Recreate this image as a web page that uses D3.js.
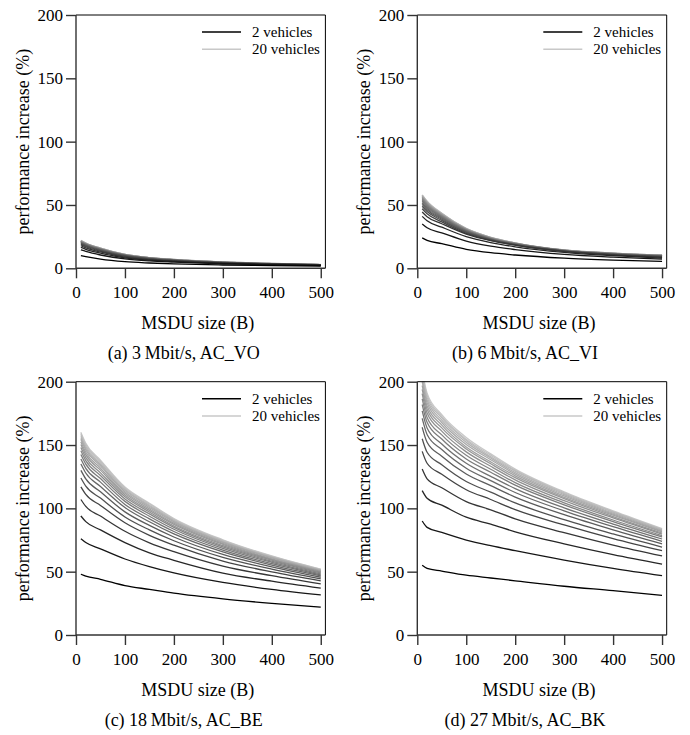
<!DOCTYPE html>
<html>
<head>
<meta charset="utf-8">
<script src="https://cdn.jsdelivr.net/npm/d3@7"></script>
<style>
  body { margin: 0; background: #fff; }
  text { font-family: "Liberation Serif", "Times New Roman", serif; fill: #000; }
</style>
</head>
<body>
<div class="chart"></div>
<script>
// MSDU sizes sampled along the x axis (bytes)
const msduSize = [10, 20, 50, 100, 150, 200, 300, 400, 500];
// one curve per number of vehicles
const vehicles = [2, 3, 4, 5, 6, 7, 8, 9, 10, 11, 12, 13, 14, 15, 16, 17, 18, 19, 20];

const xTicks = [0, 100, 200, 300, 400, 500];
const yTicks = [0, 50, 100, 150, 200];

const captions = ["(a) 3\u2009Mbit/s, AC_VO", "(b) 6\u2009Mbit/s, AC_VI",
                  "(c) 18\u2009Mbit/s, AC_BE", "(d) 27\u2009Mbit/s, AC_BK"];
const legendLabels = ["2 vehicles", "20 vehicles"];

// performance increase (%), rows = vehicles, cols = msduSize
const acVO = [
  [10, 9.2, 7.2, 5.2, 4.2, 3.5, 2.6, 2.1, 1.7],
  [14.5, 13.3, 10.5, 7.4, 5.8, 4.9, 3.6, 2.8, 2.2],
  [16.5, 15.0, 12.0, 8.3, 6.5, 5.4, 3.9, 3.0, 2.4],
  [17.8, 16.2, 12.9, 8.9, 6.9, 5.7, 4.1, 3.2, 2.5],
  [18.7, 17.0, 13.6, 9.4, 7.3, 6.0, 4.3, 3.3, 2.6],
  [19.3, 17.6, 14.0, 9.7, 7.5, 6.2, 4.4, 3.4, 2.65],
  [19.8, 18.0, 14.4, 9.9, 7.7, 6.3, 4.5, 3.45, 2.7],
  [20.2, 18.4, 14.7, 10.1, 7.8, 6.4, 4.6, 3.5, 2.75],
  [20.5, 18.7, 14.9, 10.3, 7.9, 6.5, 4.65, 3.55, 2.8],
  [20.8, 18.9, 15.1, 10.4, 8.0, 6.6, 4.7, 3.6, 2.82],
  [21.0, 19.1, 15.3, 10.5, 8.1, 6.7, 4.75, 3.63, 2.85],
  [21.2, 19.3, 15.4, 10.6, 8.2, 6.75, 4.8, 3.67, 2.88],
  [21.4, 19.5, 15.6, 10.7, 8.3, 6.8, 4.85, 3.7, 2.9],
  [21.5, 19.6, 15.6, 10.8, 8.3, 6.85, 4.9, 3.72, 2.92],
  [21.6, 19.7, 15.7, 10.8, 8.35, 6.9, 4.92, 3.75, 2.94],
  [21.7, 19.8, 15.8, 10.9, 8.4, 6.92, 4.95, 3.77, 2.96],
  [21.8, 19.8, 15.85, 10.9, 8.42, 6.95, 4.97, 3.78, 2.97],
  [21.9, 19.9, 15.9, 10.95, 8.46, 6.97, 4.98, 3.79, 2.98],
  [22, 20, 16, 11, 8.5, 7, 5, 3.8, 3.0]
];

const acVI = [
  [24, 22, 19.5, 15, 12.3, 10.5, 8, 6.5, 5.5],
  [35, 32, 28, 21.5, 17.5, 14.8, 11, 8.8, 7.2],
  [41, 37.5, 32.5, 25, 20.3, 17, 12.6, 10, 8.1],
  [44.5, 40.7, 35.2, 27, 21.8, 18.3, 13.4, 10.6, 8.7],
  [47, 43.0, 36.6, 27.6, 22.1, 18.4, 13.5, 10.8, 9.0],
  [49, 44.8, 37.8, 28.3, 22.5, 18.7, 13.6, 11.0, 9.3],
  [50.5, 46.2, 38.7, 28.8, 22.8, 18.8, 13.7, 11.1, 9.4],
  [51.8, 47.3, 39.6, 29.3, 23.1, 19.0, 13.8, 11.3, 9.6],
  [53, 48.4, 40.3, 29.7, 23.3, 19.2, 14.0, 11.4, 9.8],
  [54, 49.4, 40.9, 30.0, 23.5, 19.4, 14.1, 11.6, 9.9],
  [54.8, 50.1, 41.4, 30.3, 23.7, 19.5, 14.15, 11.65, 10.0],
  [55.5, 50.7, 41.9, 30.6, 23.9, 19.6, 14.2, 11.7, 10.1],
  [56, 51.2, 42.2, 30.8, 24.0, 19.7, 14.25, 11.75, 10.2],
  [56.5, 51.6, 42.5, 30.9, 24.1, 19.8, 14.3, 11.8, 10.3],
  [57, 52.1, 42.8, 31.1, 24.2, 19.85, 14.35, 11.85, 10.35],
  [57.3, 52.4, 43.0, 31.2, 24.3, 19.9, 14.4, 11.9, 10.4],
  [57.6, 52.6, 43.2, 31.3, 24.4, 19.95, 14.45, 11.95, 10.45],
  [57.8, 52.8, 43.4, 31.4, 24.45, 20.0, 14.5, 12.0, 10.5],
  [58, 53, 43.5, 31.5, 24.5, 20.05, 14.55, 12.05, 10.55]
];

const acBE = [
  [48, 46.5, 44, 39, 36, 33, 28.5, 25, 22],
  [76, 73, 68, 60, 54, 49, 41.5, 36, 31.6],
  [94, 89.5, 83, 73, 64.9, 59, 48.9, 42.5, 37],
  [107, 101.5, 93.9, 81.9, 72.8, 65.8, 54.4, 46.8, 40.3],
  [117, 111, 102.3, 88.6, 78.7, 70.9, 58.4, 49.8, 42.7],
  [124, 117.5, 108.1, 93.2, 83.0, 74.4, 61.3, 52.0, 44.3],
  [130, 123.2, 113.1, 97.2, 86.5, 77.4, 63.6, 53.8, 45.6],
  [135, 127.9, 117.3, 100.6, 89.4, 79.8, 65.6, 55.2, 46.7],
  [139, 131.6, 120.7, 103.1, 91.7, 81.7, 67.1, 56.3, 47.5],
  [142.5, 134.9, 123.5, 105.5, 93.8, 83.5, 68.4, 57.4, 48.3],
  [145.5, 137.7, 126.0, 107.4, 95.6, 85.0, 69.5, 58.3, 49.0],
  [148, 140.1, 128.0, 109.1, 97.1, 86.1, 70.6, 59.1, 49.6],
  [150.5, 142.4, 130.2, 110.6, 98.4, 87.4, 71.6, 59.7, 50.1],
  [152.5, 144.3, 131.8, 111.9, 99.6, 88.3, 72.3, 60.2, 50.5],
  [154.5, 146.2, 133.5, 113.2, 100.7, 89.3, 73.1, 60.9, 50.8],
  [156, 147.6, 134.6, 114.2, 101.7, 90.0, 73.6, 61.2, 51.2],
  [157.5, 149.0, 135.9, 115.1, 102.5, 90.7, 74.2, 61.6, 51.4],
  [159, 150.4, 137.2, 116.1, 103.4, 91.4, 74.7, 62.0, 51.8],
  [160, 151.4, 138, 116.8, 104, 92, 75.2, 62.4, 52]
];

const acBK = [
  [55, 52.6, 50.5, 47.2, 45, 42.8, 38.5, 35, 31.3],
  [90, 85, 81, 75, 70.5, 66.6, 59.2, 52.6, 46.8],
  [114, 108, 102.5, 93, 87.5, 81.5, 72, 63.5, 56],
  [131, 123.3, 116.3, 105.3, 98.8, 91.7, 80.8, 71.0, 62.4],
  [145, 135.6, 126.9, 114.7, 107.0, 99.0, 86.9, 76.1, 66.6],
  [155, 144.3, 134.4, 121.2, 112.8, 104.3, 91.1, 79.8, 69.4],
  [164, 152.2, 141.2, 127.1, 117.9, 108.9, 95.0, 83.0, 72.0],
  [171, 158.3, 146.4, 131.7, 121.9, 112.5, 98.0, 85.5, 74.0],
  [177, 163.5, 150.8, 135.6, 125.3, 115.6, 100.4, 87.6, 75.8],
  [182, 168.0, 154.7, 139.0, 128.5, 118.3, 102.8, 89.5, 77.4],
  [186.5, 171.8, 158.0, 141.9, 130.9, 120.3, 104.4, 90.8, 78.5],
  [190.5, 175.3, 161.0, 144.6, 133.2, 122.5, 106.1, 92.4, 79.6],
  [194, 178.3, 163.5, 146.9, 135.2, 124.2, 107.7, 93.5, 80.5],
  [197, 180.8, 165.7, 148.5, 136.7, 125.7, 108.7, 94.6, 81.4],
  [200, 183.4, 167.8, 150.4, 138.4, 127.0, 109.8, 95.4, 82.0],
  [202.5, 185.5, 169.7, 152.1, 139.7, 128.2, 110.8, 96.2, 82.6],
  [205, 187.6, 171.4, 153.5, 140.8, 129.4, 111.7, 97.0, 83.2],
  [207, 189.4, 172.6, 154.6, 142.0, 130.2, 112.4, 97.5, 83.6],
  [209, 191, 174, 156, 143, 131, 113, 98, 84]
];

const width = 690, height = 735;
const plotW = 249.4, plotH = 253.3;

const svg = d3.select('.chart')
  .append('svg')
  .attr('width', width)
  .attr('height', height);

const x = d3.scaleLinear().domain([0, 509.5]).range([0, plotW]);
const y = d3.scaleLinear().domain([0, 200]).range([plotH, 0]);

// dark for few vehicles, light grey for many
const shade = d3.scalePow().exponent(0.5).domain([2, 20]).range(["#000000", "#c8c8c8"]);

const line = d3.line()
  .x((d, i) => x(msduSize[i]))
  .y(d => y(d))
  .curve(d3.curveMonotoneX);

const panels = [
  {data: acVO, caption: captions[0], left: 76, top: 15},
  {data: acVI, caption: captions[1], left: 417.3, top: 15},
  {data: acBE, caption: captions[2], left: 76, top: 381.7},
  {data: acBK, caption: captions[3], left: 417.3, top: 381.7}
];

panels.forEach((p, pi) => {
  const g = svg.append('g').attr('transform', `translate(${p.left},${p.top})`);

  g.append('clipPath').attr('id', 'clip' + pi)
    .append('rect').attr('width', plotW).attr('height', plotH);

  // curves, lightest first so the dark ones sit on top
  const series = vehicles.map((v, i) => ({v: v, values: p.data[i]})).reverse();
  g.append('g').attr('clip-path', `url(#clip${pi})`)
    .selectAll('path')
    .data(series)
    .enter()
    .append('path')
    .attr('d', d => line(d.values))
    .attr('fill', 'none')
    .attr('stroke', d => shade(d.v))
    .attr('stroke-width', 1.3);

  // top / right frame
  g.append('path')
    .attr('d', `M0,0H${plotW}V${plotH}`)
    .attr('fill', 'none').attr('stroke', '#000').attr('stroke-width', 1);

  // axes
  const xAxis = g.append('g')
    .attr('transform', `translate(0,${plotH})`)
    .call(d3.axisBottom(x).tickValues(xTicks).tickSize(10).tickPadding(8).tickSizeOuter(0));
  const yAxis = g.append('g')
    .call(d3.axisLeft(y).tickValues(yTicks).tickSize(10).tickPadding(3).tickSizeOuter(0));

  [xAxis, yAxis].forEach(a => {
    a.select('.domain').attr('stroke', '#333').attr('stroke-width', 1.4);
    a.selectAll('.tick line').attr('stroke', '#333').attr('stroke-width', 1.4);
    a.selectAll('.tick text')
      .attr('font-family', '"Liberation Serif", serif')
      .attr('font-size', 17)
      .attr('fill', '#000');
  });
  xAxis.select('.domain').attr('d', `M0,0H${plotW}`);
  yAxis.select('.domain').attr('d', `M0,${plotH}V0`);

  g.append('text')
    .attr('x', plotW / 2 - 3)
    .attr('y', plotH + 61)
    .attr('text-anchor', 'middle')
    .attr('font-size', 18)
    .text('MSDU size (B)');

  g.append('text')
    .attr('transform', `translate(-47,${plotH / 2}) rotate(-90)`)
    .attr('text-anchor', 'middle')
    .attr('font-size', 18)
    .text('performance increase (%)');

  // legend
  const lg = g.append('g').attr('transform', 'translate(126,17)');
  [2, 20].forEach((v, i) => {
    lg.append('line')
      .attr('x1', 0).attr('x2', 39)
      .attr('y1', i * 17.3).attr('y2', i * 17.3)
      .attr('stroke', shade(v)).attr('stroke-width', 1.5);
    lg.append('text')
      .attr('x', 50).attr('y', i * 17.3 + 5)
      .attr('font-size', 15)
      .text(legendLabels[i]);
  });

  // sub-figure caption
  g.append('text')
    .attr('x', plotW / 2 - 17)
    .attr('y', plotH + 91)
    .attr('text-anchor', 'middle')
    .attr('font-size', 18)
    .text(p.caption);
});
</script>
</body>
</html>
